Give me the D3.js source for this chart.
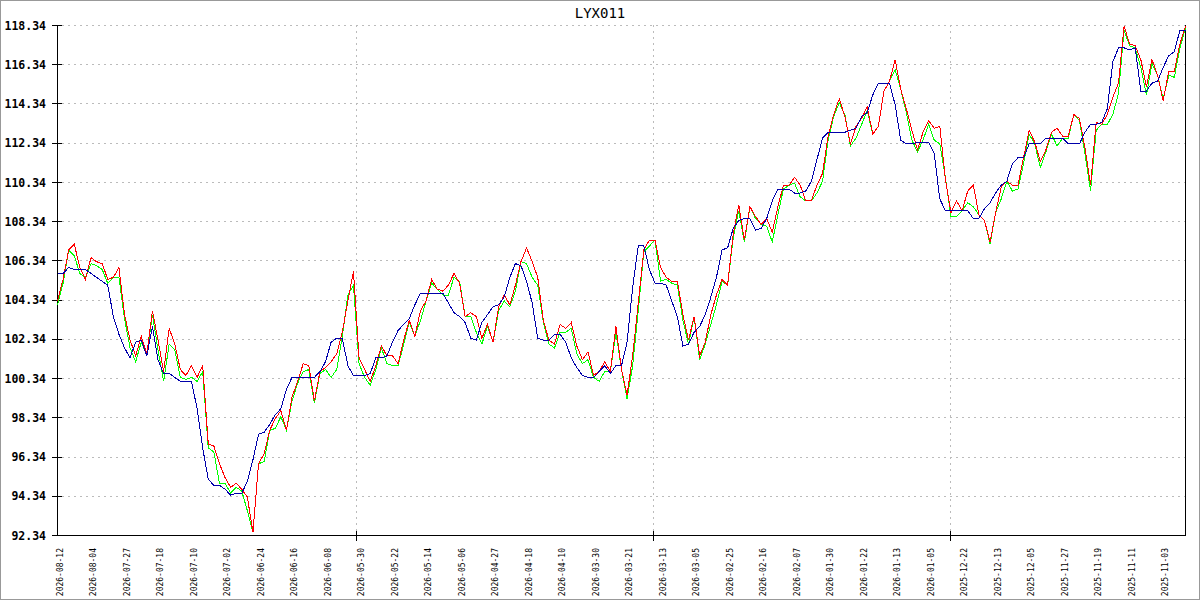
<!DOCTYPE html>
<html><head><meta charset="utf-8">
<script src="https://cdn.jsdelivr.net/npm/d3@7"></script>
<style>
html,body{margin:0;padding:0;background:#fff;}
svg{display:block;}
</style></head>
<body>
<svg id="chart" width="1200" height="600"></svg>
<script>
const title = "LYX011";
const tickDates = ["2026-08-12","2026-08-04","2026-07-27","2026-07-18","2026-07-10","2026-07-02","2026-06-24","2026-06-16","2026-06-08","2026-05-30","2026-05-22","2026-05-14","2026-05-06","2026-04-27","2026-04-18","2026-04-10","2026-03-30","2026-03-21","2026-03-13","2026-03-05","2026-02-25","2026-02-16","2026-02-07","2026-01-30","2026-01-22","2026-01-13","2026-01-05","2025-12-22","2025-12-13","2025-12-05","2025-11-27","2025-11-19","2025-11-11","2025-11-03"];
const yTicks = [92.34,94.34,96.34,98.34,100.34,102.34,104.34,106.34,108.34,110.34,112.34,114.34,116.34,118.34];
const redSeries = [104.3,105.4,106.9,107.2,106.0,105.4,106.5,106.3,106.2,105.4,105.5,106.0,103.6,102.3,101.5,102.5,101.6,103.8,102.3,100.7,
102.9,102.1,100.8,100.5,101.0,100.4,101.0,97.0,96.9,96.0,95.3,94.8,95.0,94.7,94.3,92.5,96.0,96.5,97.7,98.3,
98.7,97.7,99.4,100.2,101.1,101.0,99.2,100.7,100.9,101.2,101.6,102.7,104.3,105.8,101.4,100.8,100.2,101.0,102.0,101.5,
101.5,101.1,102.3,103.3,102.5,103.8,104.3,105.4,104.9,104.8,105.1,105.7,105.2,103.5,103.7,103.5,102.4,103.1,102.2,104.0,
104.6,104.1,105.1,106.3,107.0,106.3,105.5,103.3,102.3,102.1,103.1,102.9,103.2,102.0,101.3,101.7,100.5,100.7,101.2,100.7,
103.0,100.8,99.5,101.5,104.2,106.9,107.4,107.4,106.0,105.5,105.3,105.3,103.6,102.3,103.5,101.5,102.2,103.6,104.6,105.4,
105.1,107.7,109.2,107.4,109.1,108.6,108.2,108.5,107.8,109.1,110.2,110.2,110.6,110.2,109.4,109.4,110.2,110.8,112.7,113.8,
114.6,113.7,112.3,113.2,113.6,114.2,112.8,113.2,115.0,115.5,116.6,115.1,114.1,113.0,112.0,112.9,113.5,113.1,113.2,110.5,
108.8,109.4,108.9,109.9,110.2,108.7,108.4,107.3,108.8,110.1,110.4,110.2,110.2,111.6,113.0,112.4,111.4,112.0,112.9,113.1,
112.7,112.7,113.8,113.6,112.1,110.2,113.4,113.3,113.8,114.7,115.4,118.3,117.4,117.3,116.6,115.2,116.6,115.8,114.5,116.0,
116.0,117.4,118.3];
const greenSeries = [104.1,105.2,106.9,106.6,105.7,105.5,106.2,106.1,105.9,105.2,105.5,105.5,103.4,101.9,101.2,102.2,101.5,103.6,101.8,100.2,
102.1,101.8,100.4,100.3,100.4,100.2,100.7,96.8,96.6,95.0,95.0,94.5,94.8,94.6,93.6,92.5,96.0,96.1,97.7,97.8,
98.4,97.7,99.2,100.1,100.7,100.8,99.1,100.6,100.8,100.4,100.8,102.5,104.6,105.1,101.1,100.4,100.0,100.8,101.9,101.1,
101.0,101.0,102.1,103.2,102.5,103.3,104.3,105.2,104.9,104.6,104.6,105.5,105.3,103.5,103.5,102.7,102.1,103.0,102.2,103.8,
104.3,104.0,104.8,106.3,106.2,105.5,105.1,103.2,102.1,101.9,102.7,102.7,102.9,101.6,101.1,101.3,100.4,100.2,100.7,100.7,
102.7,100.8,99.3,101.0,103.8,106.8,107.1,107.4,105.3,105.4,105.2,105.1,103.3,102.1,103.5,101.3,102.1,103.1,104.1,105.3,
105.1,107.5,108.9,107.3,109.1,108.5,108.2,108.1,107.3,108.7,110.0,110.2,110.3,109.6,109.4,109.4,109.8,110.4,112.5,113.7,
114.4,113.8,112.2,112.6,113.3,114.0,112.8,113.2,115.0,115.5,116.1,115.1,113.9,112.5,111.9,112.5,113.3,112.5,112.3,110.6,
108.6,108.6,108.9,109.3,109.1,108.7,108.4,107.2,108.8,109.5,110.4,109.9,110.0,111.3,112.8,112.3,111.1,111.9,112.8,112.2,
112.6,112.6,113.8,113.5,111.8,109.9,113.0,113.3,113.3,113.8,114.9,118.1,117.3,117.2,116.2,114.8,116.4,115.8,114.6,115.8,
115.7,117.2,118.2];
const blueSeries = [105.7,105.7,106.0,105.9,105.9,105.9,105.7,105.5,105.3,105.1,103.5,102.6,101.9,101.4,102.2,102.3,101.5,103.0,101.3,100.6,
100.6,100.4,100.2,100.2,100.2,98.8,96.8,95.2,94.9,94.9,94.7,94.4,94.5,94.5,95.1,96.2,97.5,97.6,98.0,98.5,
98.8,99.8,100.4,100.4,100.4,100.4,100.4,100.7,101.2,102.2,102.4,102.4,101.0,100.5,100.5,100.5,100.6,101.4,101.4,101.5,
102.2,102.8,103.1,103.4,104.1,104.7,104.7,104.7,104.7,104.7,104.2,103.7,103.5,103.2,102.4,102.3,103.2,103.6,104.0,104.1,
104.5,105.5,106.2,106.1,105.3,104.2,102.4,102.3,102.3,102.6,102.6,102.2,101.4,100.9,100.5,100.4,100.4,100.7,101.0,100.6,
101.0,101.0,102.2,105.0,107.1,107.1,105.9,105.2,105.2,105.1,104.3,103.5,102.0,102.1,102.7,103.0,103.6,104.5,105.5,106.9,
107.0,108.0,108.4,108.5,108.5,107.9,108.0,108.5,109.4,110.0,110.0,110.0,109.8,109.8,109.9,110.4,111.5,112.6,112.9,112.9,
112.9,112.9,113.0,113.1,113.7,113.9,114.8,115.4,115.4,115.4,114.3,112.5,112.3,112.3,112.4,112.4,112.4,111.8,109.5,108.9,
108.9,108.9,108.9,108.9,108.5,108.5,109.0,109.3,109.8,110.2,110.4,111.3,111.6,111.6,112.3,112.3,112.3,112.6,112.6,112.6,
112.6,112.3,112.3,112.3,112.9,113.3,113.3,113.4,114.1,116.5,117.2,117.2,117.1,117.2,115.0,115.0,115.4,115.5,116.2,116.8,
117.0,118.1,118.1];
const tickEvery = 6;
const vGridIdx = [53.4, 106.6, 159.9];

const svg = d3.select("#chart");
const W = 1200, H = 600;
const n = redSeries.length;
const x = d3.scaleLinear().domain([0, n - 1]).range([57.5, 1185.5]);
const y = d3.scaleLinear().domain([92.34, 118.34]).range([535.5, 25.5]);
const mono = "'DejaVu Sans Mono', monospace";

svg.append("rect").attr("x",0.5).attr("y",0.5).attr("width",W-1).attr("height",H-1)
  .attr("fill","#fff").attr("stroke","#999").attr("stroke-width",1);

// horizontal grid
svg.append("g").selectAll("line").data(yTicks.slice(1)).join("line")
  .attr("x1", 62).attr("x2", 1185)
  .attr("y1", d => y(d)).attr("y2", d => y(d))
  .attr("stroke", "#bbb").attr("stroke-dasharray", "2,4").attr("shape-rendering","crispEdges");
// vertical grid
svg.append("g").selectAll("line").data(vGridIdx).join("line")
  .attr("x1", d => Math.round(x(d)) + 0.5).attr("x2", d => Math.round(x(d)) + 0.5)
  .attr("y1", 25).attr("y2", 531)
  .attr("stroke", "#bbb").attr("stroke-dasharray", "2,4").attr("shape-rendering","crispEdges");

// axes lines
const axisG = svg.append("g").attr("stroke","#000").attr("shape-rendering","crispEdges");
axisG.append("line").attr("x1",57.5).attr("x2",57.5).attr("y1",25).attr("y2",536);
axisG.append("line").attr("x1",1185.5).attr("x2",1185.5).attr("y1",25).attr("y2",536);
axisG.append("line").attr("x1",57).attr("x2",1186).attr("y1",535.5).attr("y2",535.5);
axisG.selectAll(".yt").data(yTicks).join("line").attr("class","yt")
  .attr("x1",52).attr("x2",62).attr("y1",d=>y(d)).attr("y2",d=>y(d));
axisG.selectAll(".xt").data(vGridIdx).join("line").attr("class","xt")
  .attr("x1",d=>Math.round(x(d))+0.5).attr("x2",d=>Math.round(x(d))+0.5).attr("y1",531).attr("y2",541);

// y labels
svg.append("g").selectAll("text").data(yTicks).join("text")
  .attr("x", 46).attr("y", d => y(d)).attr("dy","0.36em")
  .attr("text-anchor","end").attr("font-family", mono).attr("font-weight","bold")
  .attr("font-size","11.5px").attr("fill","#000").text(d => d.toFixed(2));

// x labels
const xLab = tickDates.map((t, k) => ({t, i: k * tickEvery}));
svg.append("g").selectAll("text").data(xLab).join("text")
  .attr("transform", d => `translate(${x(d.i) + 5},548) rotate(-90)`)
  .attr("text-anchor","end").attr("font-family", mono).attr("font-size","8px")
  .attr("fill","#000").text(d => d.t);

// title
svg.append("text").attr("x", 600).attr("y", 18).attr("text-anchor","middle")
  .attr("font-family", mono).attr("font-size","14px").attr("fill","#000").text(title);

// lines
const line = d3.line().x((d,i)=>x(i)).y(d=>y(d));
const lg = svg.append("g").attr("fill","none").attr("stroke-width",1).attr("shape-rendering","crispEdges");
lg.append("path").attr("d", line(greenSeries)).attr("stroke","#00ff00");
lg.append("path").attr("d", line(redSeries)).attr("stroke","#ff0000");
lg.append("path").attr("d", line(blueSeries)).attr("stroke","#0000aa");
</script>
</body></html>
